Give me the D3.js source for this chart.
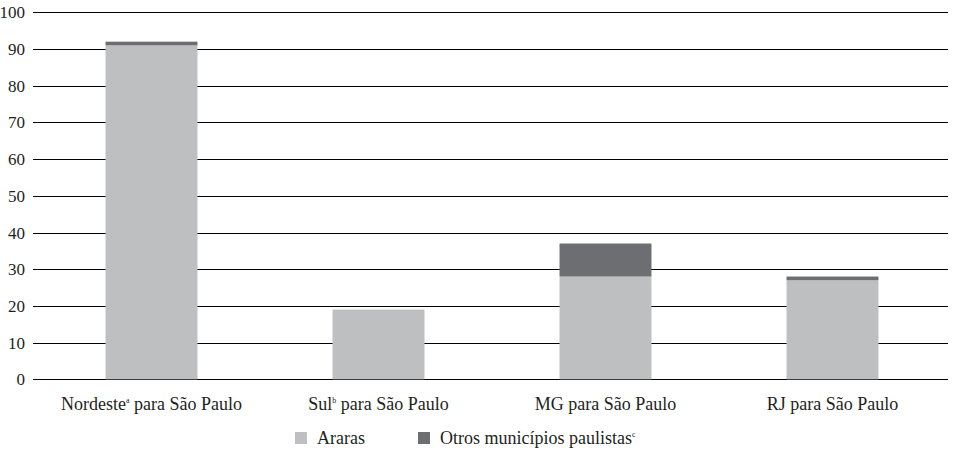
<!DOCTYPE html>
<html>
<head>
    <meta charset="utf-8">
    <title>d3</title>
</head>
<body style="margin:0">
    <script src="https://cdn.jsdelivr.net/npm/d3@7/dist/d3.min.js"></script>
    <script>
    var categories = ["Nordeste", "Sul", "MG", "RJ"];
    var supers = ["a", "b", "", ""];
    var araras = [91, 19, 28, 27];
    var otros = [1, 0, 9, 1];
    var yTicks = [0, 10, 20, 30, 40, 50, 60, 70, 80, 90, 100];
    var seriesNames = ["Araras", "Otros municípios paulistas"];
    var colors = ["#bebfc1", "#6d6e71"];

    var width = 959, height = 452;

    var svg = d3.select("body").append("svg")
        .attr("width", width)
        .attr("height", height);

    var x = d3.scaleBand()
        .domain(categories)
        .range([38, 946])
        .paddingInner(0.595)
        .paddingOuter(0.2975);

    var y = d3.scaleLinear()
        .domain([0, 100])
        .range([379.3, 12.3]);

    // gridlines + tick labels
    var grid = svg.append("g");
    grid.selectAll("line").data(yTicks).enter().append("line")
        .attr("x1", 33).attr("x2", 948)
        .attr("y1", function(d) { return Math.round(y(d)) + 0.5; })
        .attr("y2", function(d) { return Math.round(y(d)) + 0.5; })
        .attr("stroke", "#000")
        .attr("stroke-width", 1.2);
    grid.selectAll("text").data(yTicks).enter().append("text")
        .attr("x", 25)
        .attr("y", function(d) { return y(d) + 6; })
        .attr("text-anchor", "end")
        .attr("font-family", "Liberation Serif")
        .attr("font-size", 17)
        .attr("fill", "#231f20")
        .text(function(d) { return d; });

    // bars
    var bars = svg.append("g");
    categories.forEach(function(c, i) {
        bars.append("rect")
            .attr("x", x(c)).attr("width", x.bandwidth())
            .attr("y", y(araras[i]))
            .attr("height", y(0) - y(araras[i]))
            .attr("fill", colors[0]);
        if (otros[i] > 0) {
            bars.append("rect")
                .attr("x", x(c)).attr("width", x.bandwidth())
                .attr("y", y(araras[i] + otros[i]))
                .attr("height", y(araras[i]) - y(araras[i] + otros[i]))
                .attr("fill", colors[1]);
        }
    });

    // category labels
    svg.append("g").selectAll("text").data(categories).enter().append("text")
        .attr("x", function(d) { return x(d) + x.bandwidth() / 2; })
        .attr("y", 410)
        .attr("text-anchor", "middle")
        .attr("font-family", "Liberation Serif")
        .attr("font-size", 18)
        .attr("fill", "#231f20")
        .each(function(d, i) {
            var t = d3.select(this);
            t.append("tspan").text(d);
            if (supers[i]) {
                t.append("tspan").attr("dy", -7).attr("font-size", 8).text(supers[i]);
                t.append("tspan").attr("dy", 7).text(" para São Paulo");
            } else {
                t.append("tspan").text(" para São Paulo");
            }
        });

    // legend
    var legX = [295, 418];
    var legend = svg.append("g").selectAll("g").data(seriesNames).enter().append("g");
    legend.append("rect")
        .attr("x", function(d, i) { return legX[i]; }).attr("y", 432)
        .attr("width", 12).attr("height", 12)
        .attr("fill", function(d, i) { return colors[i]; });
    legend.append("text")
        .attr("x", function(d, i) { return legX[i] + 22; }).attr("y", 444)
        .attr("font-family", "Liberation Serif")
        .attr("font-size", 18)
        .attr("fill", "#231f20")
        .text(function(d) { return d; })
        .filter(function(d, i) { return i === 1; })
        .append("tspan").attr("dy", -7).attr("font-size", 8).text("c");
    </script>
</body>
</html>
